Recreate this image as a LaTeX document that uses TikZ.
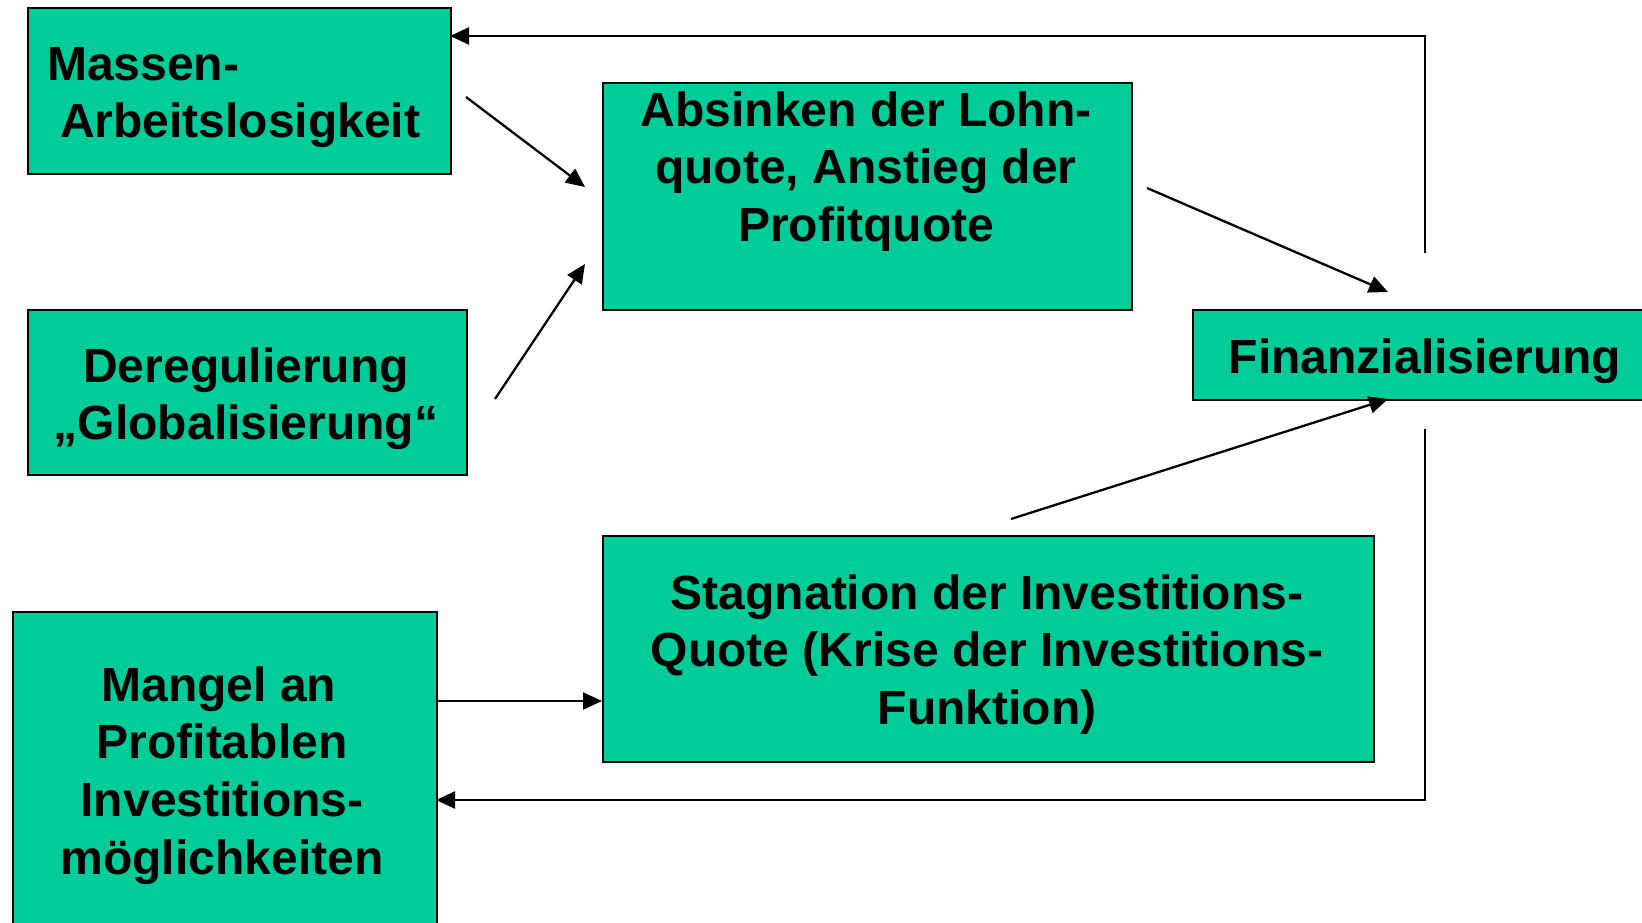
\documentclass[tikz,border=0pt]{standalone}
\usepackage{fontspec}
\setmainfont{Liberation Sans}
\usetikzlibrary{arrows.meta}
\definecolor{boxgreen}{RGB}{0,204,153}
\begin{document}
\begin{tikzpicture}[x=1pt,y=-1pt,
  box/.style={draw=black, line width=2pt, fill=boxgreen, inner sep=0pt, anchor=north west},
  label/.style={inner sep=0pt, font=\fontsize{48}{57.6}\selectfont\bfseries, align=center, anchor=north},
  conn/.style={line width=2.3pt, -{Triangle[length=19pt,width=17pt]}}]
\useasboundingbox (0,0) rectangle (1642,923);
\clip (0,0) rectangle (1642,923);
\fill[white] (0,0) rectangle (1642,923);
% boxes
\node[box, minimum width=423pt, minimum height=166pt] (mb) at (27,7) {};
\node[box, minimum width=439pt, minimum height=165pt] (db) at (27,309) {};
\node[box, minimum width=529pt, minimum height=227pt] (ab) at (602,82) {};
\node[box, minimum width=470pt, minimum height=90pt] (fb) at (1192,309) {};
\node[box, minimum width=771pt, minimum height=226pt] (sb) at (602,535) {};
\node[box, minimum width=424pt, minimum height=330pt] (gb) at (12,611) {};
% texts
\node[label, align=left, anchor=north west] (mt) at (47,39.7) {\strut Massen-\\\hspace*{13pt}\strut Arbeitslosigkeit};
\node[label] (dt) at (246,341.7) {\strut Deregulierung\\\strut „Globalisierung“};
\node[label] (at) at (866,85.7) {\strut Absinken der Lohn-\\\strut quote, Anstieg der\\\strut Profitquote};
\node[label] (ft) at (1425,332.7) {\strut Finanzialisierung};
\node[label] (st) at (987,568.7) {\strut Stagnation der Investitions-\\\strut Quote (Krise der Investitions-\\\strut Funktion)};
\node[label] (gt) at (222,660.7) {\strut Mangel an\hspace*{6pt}\\\strut Profitablen\\\strut Investitions-\\\strut möglichkeiten};
% connector points
\coordinate (a1s) at (466,97);
\coordinate (a1e) at (585,187);
\coordinate (a2s) at (495,399);
\coordinate (a2e) at (585,264);
\coordinate (a3s) at (1147,188);
\coordinate (a3e) at (1388,292);
\coordinate (a4s) at (1011,519);
\coordinate (a4e) at (1388,399);
\coordinate (t1) at (1425,253);
\coordinate (t2) at (1425,36);
\coordinate (t3) at (450,36);
\coordinate (b1) at (1425,429);
\coordinate (b2) at (1425,800);
\coordinate (b3) at (436,800);
\coordinate (m1) at (436,701);
\coordinate (m2) at (602,701);
% connectors
\draw[conn] (a1s) -- (a1e);
\draw[conn] (a2s) -- (a2e);
\draw[conn] (a3s) -- (a3e);
\draw[conn] (a4s) -- (a4e);
\draw[conn] (t1) -- (t2) -- (t3);
\draw[conn] (b1) -- (b2) -- (b3);
\draw[conn] (m1) -- (m2);
\end{tikzpicture}
\end{document}
